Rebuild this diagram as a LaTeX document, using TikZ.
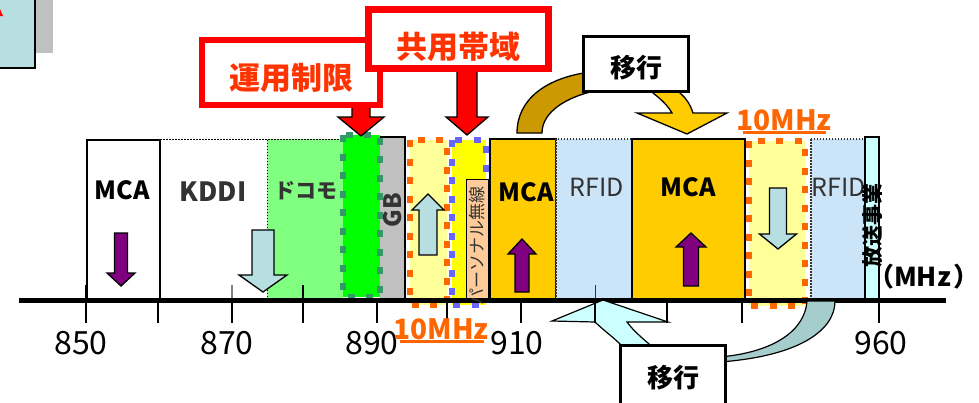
\documentclass[tikz,border=0pt]{standalone}
\usepackage{fontspec}
\setmainfont{Noto Sans CJK JP}
\usepackage{graphicx}
\definecolor{mcaor}{HTML}{FFCC00}
\definecolor{rfidbl}{HTML}{CCE4F8}
\definecolor{docomo}{HTML}{80FF80}
\definecolor{grn}{HTML}{00FF00}
\definecolor{dgrn}{HTML}{339966}
\definecolor{lyel}{HTML}{FFFF99}
\definecolor{yel}{HTML}{FFFF00}
\definecolor{orng}{HTML}{FF6600}
\definecolor{bdot}{HTML}{6666FF}
\definecolor{peach}{HTML}{FFCC99}
\definecolor{gbg}{HTML}{C0C0C0}
\definecolor{hoso}{HTML}{CCFFFF}
\definecolor{purp}{HTML}{800080}
\definecolor{lblue}{HTML}{B7DEE0}
\definecolor{redt}{HTML}{FF3300}
\definecolor{dgold}{HTML}{CC9900}
\definecolor{tealc}{HTML}{A5CDCB}
\definecolor{txtg}{HTML}{333333}
\newcommand\varr[7]{%
 \draw[fill=#1,line width=1.3] ({#2-#6},#3) -- ({#2+#6},#3) -- ({#2+#6},#4) -- ({#2+#7},#4) -- (#2,#5) -- ({#2-#7},#4) -- ({#2-#6},#4) -- cycle;}
\tikzset{
 bigdots/.style={line width=6, dash pattern=on 7 off 11.5},
 rfidbox/.style={fill=rfidbl, draw=txtg, line width=1.1, dash pattern=on 1.5 off 1.5},
 mcabox/.style={fill=mcaor, draw=black, line width=1.3},
 mcatxt/.style={inner sep=0pt, font=\bfseries\fontsize{25}{25}\selectfont},
 rfidtxt/.style={inner sep=0pt, text=txtg, font=\fontsize{25}{25}\selectfont},
 numtxt/.style={inner sep=0pt, font=\fontsize{32}{32}\selectfont},
 tentxt/.style={inner sep=0pt, text=orng, font=\bfseries\fontsize{28}{28}\selectfont},
 redbox/.style={draw=red, line width=6.5, fill=white, inner sep=0pt},
 redtxt/.style={inner sep=0pt, text=redt, font=\bfseries\fontsize{31}{31}\selectfont},
 movebox/.style={draw=black, line width=3, fill=white, inner sep=0pt},
 movetxt/.style={inner sep=0pt, font=\bfseries\fontsize{26}{26}\selectfont},
}
\begin{document}
\begin{tikzpicture}[x=1pt,y=-1pt]
\useasboundingbox (0,0) rectangle (979,402);
% top-left partial box
\fill[gbg] (0,0) rectangle (53,53);
\draw[fill=lblue,line width=1.5] (-5,-5) rectangle (35,68);
\fill[red] (0,9) -- (3,16) -- (0,16) -- cycle;

% above-line tick parts
\draw[line width=1.3] (86,285) -- (86,300);
\draw[line width=1.3, gray] (232,285) -- (232,300);

% band boxes
\draw[fill=white,line width=1.2] (87,140) rectangle (160,300);
\draw[line width=1, dash pattern=on 1.5 off 1.5] (160,139) -- (267,139);
\fill[docomo] (267,139) rectangle (343,300);
\draw[line width=1, dash pattern=on 1.5 off 1.5] (267,300) -- (267,139) -- (343,139);
\draw[line width=1.3] (303,285) -- (303,300);
\fill[gbg] (380,137) rectangle (405,300);
\draw[line width=1.2] (380,137) -- (405,137) -- (405,300);
\fill[grn] (343,135) rectangle (380,297);
\draw[dgrn, bigdots] (343,135) rectangle (380,297);
\fill[lyel] (410,140) rectangle (446.5,305);
\draw[orng, bigdots] (410,140) rectangle (446.5,305);
\fill[yel] (451.5,140) rectangle (486,305);
\draw[bdot, bigdots] (451.5,140) rectangle (486,305);
\draw[fill=peach, line width=1] (466,179) rectangle (488,300);
\draw[mcabox] (490,139) rectangle (556,300);
\draw[rfidbox] (556,139) rectangle (632,300);
\draw[line width=1, txtg] (595,285) -- (595,300);
\draw[mcabox] (632,139) rectangle (745,300);
\fill[lyel] (749,141) rectangle (805,305.5);
\draw[orng, bigdots] (749,141) rectangle (805,305.5);
\draw[rfidbox] (811,139) rectangle (865,300);
\draw[fill=hoso, line width=1.2] (865,137) rectangle (879,300);

% axis
\draw[line width=4.5] (19,300.5) -- (946,300.5);

% labels in bands
\node[mcatxt] (mca1) at (122,190) {MCA};
\node[inner sep=0pt, text=txtg, font=\bfseries\fontsize{26.5}{26.5}\selectfont] (kddi) at (213,192) {KDDI};
\node[inner sep=0pt, text=txtg, font=\bfseries\fontsize{21}{21}\selectfont] (docomo) at (306,191) {ドコモ};
\node[inner sep=0pt, rotate=90, text=txtg, font=\bfseries\fontsize{24}{24}\selectfont] (gb) at (393,210) {GB};
\node[inner sep=0pt, rotate=90, text=txtg, font=\fontsize{17}{17}\selectfont] (pers) at (477,246) {パーソナル無線};
\node[mcatxt] (mca2) at (526,192) {MCA};
\node[rfidtxt] (rfid1) at (597,187) {RFID};
\node[mcatxt] (mca3) at (688,187) {MCA};
\node[rfidtxt] (rfid2) at (839,187) {RFID};
\node[inner sep=0pt, rotate=90, font=\bfseries\fontsize{21}{21}\selectfont] (hoso) at (873,225) {放送事業};
\node[inner sep=0pt, font=\bfseries\fontsize{26}{26}\selectfont] (mhz) at (930,277) {\hspace{-12pt}（MHz\hspace{3pt}）\hspace{-14pt}};

% small block arrows
\varr{purp}{121}{233}{273}{286}{6.5}{14}
\varr{lblue}{263}{230}{275}{292}{11}{24}
\varr{lblue}{428}{255}{210}{194}{9}{16}
\varr{purp}{522}{292}{254}{239}{7}{14}
\varr{purp}{691}{286}{247}{233}{7.5}{15}
\varr{lblue}{778}{188}{234}{249}{8.5}{18.5}

% red arrows
\varr{red}{361}{95}{117}{136}{9}{23}
\varr{red}{467}{60}{117}{135}{10}{21}

% top curved arrow
\draw[fill=dgold, line width=1.3] (517,133) .. controls (517,100) and (545,78) .. (590,72) -- (590,92) .. controls (560,100) and (542,115) .. (542,133) -- cycle;
\draw[fill=mcaor, line width=1.3] (650,85) -- (653,93) .. controls (662,100) and (668,106) .. (672,113) -- (637,113) -- (687,134) -- (727,113) -- (693,113) .. controls (690,104) and (686,98) .. (680,93) -- (678,85) -- cycle;

% bottom curved arrow
\draw[fill=tealc, line width=1.2] (807,301) .. controls (805,330) and (775,352) .. (720,357) -- (720,362) .. controls (800,356) and (835,330) .. (835,301) -- cycle;
\draw[fill=hoso, line width=1.2] (552,321) -- (603,300) -- (668,322) -- (627,322) .. controls (635,333) and (645,340) .. (658,352) -- (628,352) .. controls (615,338) and (603,330) .. (595,322) -- cycle;

% ticks below axis
\foreach \x in {86,158,232,303,377,447,521,595,667,742,879}
  \draw[line width=1.3] (\x,300) -- (\x,323);

% numbers
\node[numtxt] (n850) at (81,343) {850};
\node[numtxt] (n870) at (227,343) {870};
\node[numtxt] (n890) at (372,343) {890};
\node[numtxt] (n910) at (517,343) {910};
\node[numtxt] (n960) at (881,343) {960};

% 10MHz labels
\node[tentxt] (ten1) at (784,120) {10MHz};
\draw[orng, line width=2.2] (743,132.5) -- (826,132.5);
\node[tentxt] (ten2) at (441,329) {10MHz};
\draw[orng, line width=2.2] (400,341.5) -- (484,341.5);

% top boxes
\node[redbox, minimum width=178, minimum height=65] (unyo) at (291,72.5) {};
\node[redtxt] (unyot) at (291,78) {運用制限};
\node[redbox, minimum width=180, minimum height=59] (kyoyo) at (458.5,39) {};
\node[redtxt] (kyoyot) at (458.5,47) {共用帯域};
\node[movebox, minimum width=105, minimum height=55] (mv1) at (636,64) {};
\node[movetxt] (mv1t) at (636,68) {移行};
\node[movebox, minimum width=104.5, minimum height=60] (mv2) at (672.75,375.5) {};
\node[movetxt] (mv2t) at (673,378) {移行};
\end{tikzpicture}
\end{document}
